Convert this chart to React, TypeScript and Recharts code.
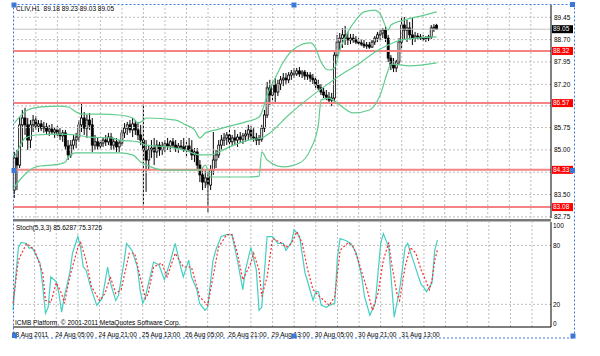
import React from 'react';
import { ComposedChart, Bar, Line, XAxis, YAxis, ReferenceLine } from 'recharts';

// CLIV,H1 — open, high, low, close per hourly bar
const ohlc: [number, number, number, number][] = [
  [83.65, 84.93, 83.39, 84.73], [84.73, 85.0, 83.65, 84.49], [84.49, 86.1, 84.39, 85.84], [85.84, 86.34, 85.1, 86.07],
  [86.07, 86.41, 85.5, 85.84], [85.84, 86.07, 85.0, 85.33], [85.33, 86.0, 85.06, 85.84], [85.84, 86.17, 85.6, 86.0],
  [86.0, 86.14, 85.67, 85.8], [85.8, 86.0, 85.6, 85.87], [85.87, 86.0, 85.63, 85.73], [85.73, 85.94, 85.57, 85.77],
  [85.77, 85.9, 85.5, 85.63], [85.63, 85.84, 85.47, 85.7], [85.7, 85.87, 85.53, 85.6], [85.6, 85.77, 85.4, 85.67],
  [85.67, 85.8, 85.47, 85.53], [85.53, 85.73, 85.33, 85.47], [85.47, 85.67, 85.27, 85.57], [85.57, 85.67, 85.0, 85.13],
  [85.13, 85.33, 84.66, 84.83], [84.83, 85.33, 84.73, 85.16], [85.16, 85.5, 85.0, 85.33], [85.33, 85.57, 85.06, 85.43],
  [85.43, 86.0, 85.27, 85.84], [85.84, 86.57, 85.6, 86.07], [86.07, 86.27, 85.5, 85.73], [85.73, 86.17, 85.4, 86.0],
  [86.0, 86.24, 85.67, 85.84], [85.84, 86.07, 84.93, 85.16], [85.16, 85.5, 85.0, 85.27], [85.27, 85.4, 85.0, 85.13],
  [85.13, 85.33, 85.03, 85.23], [85.23, 85.43, 85.1, 85.33], [85.33, 85.5, 85.13, 85.27], [85.27, 85.57, 85.16, 85.43],
  [85.43, 85.57, 85.0, 85.16], [85.16, 85.4, 85.0, 85.27], [85.27, 85.4, 84.93, 85.1], [85.1, 85.33, 84.93, 85.23],
  [85.23, 85.67, 85.13, 85.57], [85.57, 85.9, 85.4, 85.73], [85.73, 85.94, 85.5, 85.84], [85.84, 86.0, 85.57, 85.67],
  [85.67, 86.07, 85.43, 85.87], [85.87, 86.0, 85.5, 85.67], [85.67, 85.94, 85.33, 85.5], [85.5, 85.84, 85.16, 85.33],
  [85.33, 86.57, 82.98, 85.0], [85.0, 85.33, 83.59, 84.66], [84.66, 85.16, 84.32, 85.0], [85.0, 85.33, 84.73, 85.06],
  [85.06, 85.4, 84.49, 84.93], [84.93, 85.33, 84.73, 85.16], [85.16, 85.27, 84.8, 85.0], [85.0, 85.27, 84.83, 85.13],
  [85.13, 85.33, 84.93, 85.2], [85.2, 85.4, 85.0, 85.13], [85.13, 85.33, 84.93, 85.27], [85.27, 85.4, 85.06, 85.16],
  [85.16, 85.33, 84.93, 85.06], [85.06, 85.23, 84.9, 85.13], [85.13, 85.33, 85.0, 85.1], [85.1, 85.4, 84.93, 85.0],
  [85.0, 85.27, 84.73, 85.13], [85.13, 85.4, 84.93, 85.0], [85.0, 85.33, 84.66, 84.83], [84.83, 85.06, 84.59, 84.93],
  [84.93, 85.06, 84.32, 84.49], [84.49, 84.66, 83.92, 84.16], [84.16, 84.39, 83.65, 83.92], [83.92, 84.32, 83.72, 84.06],
  [84.06, 84.26, 82.92, 83.82], [83.82, 84.49, 83.65, 84.32], [84.32, 85.6, 84.16, 84.66], [84.66, 85.0, 84.39, 84.83],
  [84.83, 85.33, 84.73, 85.16], [85.16, 85.5, 85.0, 85.33], [85.33, 85.57, 85.13, 85.4], [85.4, 85.6, 85.16, 85.5],
  [85.5, 85.67, 85.06, 85.27], [85.27, 85.5, 85.13, 85.4], [85.4, 85.67, 85.16, 85.33], [85.33, 85.53, 85.1, 85.43],
  [85.43, 85.6, 85.23, 85.36], [85.36, 85.57, 85.2, 85.47], [85.47, 85.67, 85.27, 85.53], [85.53, 85.84, 85.33, 85.67],
  [85.67, 85.8, 85.33, 85.43], [85.43, 85.73, 85.27, 85.4], [85.4, 85.57, 85.16, 85.33], [85.33, 85.5, 85.16, 85.36],
  [85.36, 85.84, 85.27, 85.73], [85.73, 86.34, 85.6, 86.17], [86.17, 87.28, 86.07, 87.08], [87.08, 87.35, 86.51, 86.84],
  [86.84, 87.35, 86.67, 87.18], [87.18, 87.41, 86.61, 86.94], [86.94, 87.35, 86.81, 87.21], [87.21, 87.48, 87.01, 87.35],
  [87.35, 87.58, 87.14, 87.41], [87.41, 87.58, 87.18, 87.35], [87.35, 87.61, 87.24, 87.51], [87.51, 87.68, 87.35, 87.58],
  [87.58, 87.75, 87.41, 87.55], [87.55, 87.75, 87.48, 87.65], [87.65, 87.78, 87.45, 87.55], [87.55, 87.68, 87.41, 87.61],
  [87.61, 87.68, 87.35, 87.48], [87.48, 87.61, 87.35, 87.51], [87.51, 87.61, 87.28, 87.41], [87.41, 87.55, 87.21, 87.35],
  [87.35, 87.48, 87.08, 87.18], [87.18, 87.35, 87.01, 87.08], [87.08, 87.21, 86.84, 86.94], [86.94, 87.08, 86.74, 86.84],
  [86.84, 87.01, 86.67, 86.77], [86.77, 86.94, 86.57, 86.67], [86.67, 86.91, 86.47, 86.74], [86.74, 88.28, 86.61, 88.18],
  [88.18, 88.86, 88.08, 88.62], [88.62, 88.92, 88.35, 88.75], [88.75, 89.09, 88.42, 88.86], [88.86, 89.16, 88.52, 88.75],
  [88.75, 88.96, 88.52, 88.69], [88.69, 88.89, 88.55, 88.75], [88.75, 88.89, 88.59, 88.69], [88.69, 88.82, 88.55, 88.62],
  [88.62, 88.75, 88.52, 88.59], [88.59, 88.72, 88.49, 88.55], [88.55, 88.69, 88.42, 88.49], [88.49, 88.62, 88.39, 88.52],
  [88.52, 88.62, 88.39, 88.45], [88.45, 88.69, 88.42, 88.62], [88.62, 88.82, 88.52, 88.75], [88.75, 88.96, 88.62, 88.86],
  [88.86, 89.02, 88.69, 88.92], [88.92, 89.09, 88.75, 89.02], [89.02, 89.16, 88.62, 88.75], [88.75, 88.86, 87.95, 88.08],
  [88.08, 88.18, 87.68, 87.85], [87.85, 88.08, 87.61, 87.75], [87.75, 88.02, 87.61, 87.95], [87.95, 88.75, 87.85, 88.62],
  [88.62, 89.46, 88.42, 89.19], [89.19, 89.46, 88.69, 89.02], [89.02, 89.36, 88.62, 89.09], [89.09, 89.29, 88.69, 88.86],
  [88.86, 89.43, 88.52, 88.75], [88.75, 88.96, 88.62, 88.82], [88.82, 88.92, 88.69, 88.79], [88.79, 88.89, 88.69, 88.75],
  [88.75, 88.86, 88.65, 88.72], [88.72, 88.82, 88.62, 88.75], [88.75, 88.86, 88.65, 88.79], [88.79, 89.19, 88.72, 89.09],
  [89.09, 89.22, 88.96, 89.12], [89.18, 89.23, 89.03, 89.05],
];

// Bollinger bands, [bar, price]
const upperBand: [number, number][] = [
  [0, 85.9], [5, 86.34], [10, 86.44], [17, 86.47], [20, 86.44], [23, 86.27], [25, 86.2], [32, 86.2], [39, 86.17],
  [44, 86.07], [46, 85.9], [48, 86.0], [49, 86.07], [60, 86.0], [63, 85.87], [67, 85.67], [69, 85.4], [71, 85.57],
  [75, 85.67], [79, 85.77], [86, 85.94], [91, 86.1], [92, 86.27], [94, 86.84], [97, 87.41], [100, 87.95], [105, 88.45],
  [110, 88.59], [112, 88.42], [114, 87.95], [117, 87.68], [119, 87.75], [121, 88.35], [124, 88.96], [127, 89.36],
  [130, 89.63], [134, 89.69], [136, 89.56], [139, 89.02], [140, 89.19], [145, 89.36], [151, 89.49], [157, 89.63],
];
const midBand: [number, number][] = [
  [0, 84.76], [1, 84.93], [4, 85.4], [8, 85.5], [17, 85.53], [23, 85.5], [28, 85.43], [36, 85.4], [39, 85.33],
  [46, 85.27], [49, 85.16], [57, 85.1], [63, 85.0], [69, 84.83], [73, 84.83], [76, 84.93], [79, 85.06], [87, 85.33],
  [92, 85.4], [95, 85.57], [102, 86.17], [110, 86.77], [117, 87.24], [123, 87.61], [129, 87.95], [134, 88.28],
  [139, 88.52], [144, 88.69], [157, 88.79],
];
const lowerBand: [number, number][] = [
  [0, 83.75], [3, 84.09], [8, 84.43], [17, 84.53], [19, 84.59], [20, 84.76], [23, 84.9], [39, 84.9], [44, 84.83],
  [47, 84.59], [52, 84.39], [56, 84.32], [69, 84.32], [71, 84.49], [73, 84.09], [79, 84.09], [87, 84.09], [91, 84.12],
  [92, 84.93], [94, 84.66], [100, 84.43], [106, 84.56], [110, 85.0], [113, 85.84], [114, 86.67], [117, 86.74],
  [120, 86.57], [126, 86.24], [132, 86.34], [136, 86.84], [139, 87.68], [140, 87.88], [147, 87.82], [157, 87.92],
];

// Stoch(5,3,3), [bar, value]
const stochMain: [number, number][] = [
  [0, 14], [1, 48], [2, 78], [3, 83], [5, 82], [6, 77], [7, 78], [8, 73], [10, 62], [11, 38], [12, 11], [13, 17],
  [14, 48], [16, 43], [17, 31], [18, 12], [19, 28], [21, 52], [22, 72], [24, 89], [25, 78], [26, 58], [27, 55],
  [29, 35], [31, 19], [33, 26], [35, 58], [36, 42], [38, 24], [39, 29], [41, 62], [42, 82], [44, 75], [46, 58],
  [47, 35], [48, 21], [49, 28], [52, 63], [54, 60], [56, 45], [58, 62], [60, 82], [62, 58], [63, 48], [65, 65],
  [66, 48], [68, 35], [69, 21], [71, 14], [72, 17], [74, 65], [75, 75], [77, 89], [79, 91], [81, 91], [83, 65],
  [85, 35], [86, 55], [88, 78], [90, 55], [91, 14], [92, 17], [94, 89], [96, 89], [98, 82], [100, 82], [101, 75],
  [103, 83], [104, 96], [106, 89], [108, 52], [109, 43], [111, 24], [112, 33], [113, 33], [114, 19], [116, 17],
  [117, 19], [119, 21], [120, 68], [121, 87], [123, 85], [125, 82], [127, 72], [129, 48], [130, 28], [132, 9],
  [134, 21], [136, 82], [137, 92], [139, 78], [140, 42], [141, 7], [143, 35], [144, 55], [145, 78], [146, 82],
  [147, 73], [148, 65], [150, 48], [151, 40], [152, 37], [153, 33], [155, 42], [156, 75], [157, 85.6287],
];
const stochSignal: [number, number][] = [
  [0, 21], [2, 65], [5, 82], [8, 75], [11, 52], [12, 24], [14, 22], [16, 42], [18, 31], [19, 21], [21, 48], [24, 78],
  [25, 83], [27, 65], [29, 38], [32, 24], [34, 31], [36, 48], [38, 31], [40, 35], [43, 72], [45, 72], [47, 48],
  [49, 26], [50, 31], [52, 58], [55, 62], [57, 48], [60, 72], [63, 58], [66, 58], [68, 38], [69, 28], [72, 19],
  [74, 48], [76, 78], [79, 91], [81, 91], [83, 72], [85, 45], [88, 62], [89, 72], [91, 55], [92, 28], [94, 48],
  [96, 87], [99, 83], [101, 78], [103, 82], [105, 94], [107, 82], [109, 55], [111, 35], [113, 29], [115, 24],
  [117, 19], [119, 28], [121, 75], [124, 83], [126, 78], [128, 62], [131, 35], [133, 14], [135, 31], [137, 65],
  [139, 83], [140, 62], [142, 31], [143, 24], [145, 58], [147, 78], [149, 72], [151, 55], [153, 42], [154, 35],
  [155, 45], [156, 65], [157, 75.3726],
];

const timeLabels: [number, string][] = [
  [0, '23 Aug 2011'], [16, '24 Aug 05:00'], [32, '24 Aug 21:00'], [48, '25 Aug 13:00'], [64, '26 Aug 05:00'],
  [80, '26 Aug 21:00'], [96, '29 Aug 13:00'], [112, '30 Aug 05:00'], [128, '30 Aug 21:00'], [144, '31 Aug 13:00'],
];
const priceTicks = [82.75, 83.5, 84.25, 85.0, 85.75, 86.475, 87.2, 87.95, 88.7, 89.45];
const coveredTicks = [84.25, 86.475];
const levels = [88.32, 86.57, 84.33, 83.08];
const bidPrice = 89.05;
const stochTicks = [0, 20, 80, 100];
const stochLevels = [20, 80];

const SLOTS = 200;
const FONT = '"Liberation Sans", Arial, sans-serif';
const FS = 6.5;
const GRID = '#bdbdbd';

const upMap = new Map(upperBand);
const midMap = new Map(midBand);
const loMap = new Map(lowerBand);
const kMap = new Map(stochMain);
const dMap = new Map(stochSignal);
const labelMap = new Map(timeLabels);
const vGrid: number[] = [];
for (let i = 8; i < SLOTS; i += 8) vGrid.push(i);

const rows = Array.from({ length: SLOTS }, (_, i) => {
  const c = ohlc[i];
  return {
    i,
    range: c ? [c[2], c[1]] : null,
    o: c ? c[0] : undefined,
    h: c ? c[1] : undefined,
    l: c ? c[2] : undefined,
    c: c ? c[3] : undefined,
    upper: upMap.get(i),
    mid: midMap.get(i),
    lower: loMap.get(i),
    k: kMap.get(i),
    d: dMap.get(i),
  };
});

const Candle = (props: any) => {
  const { x, width, y, height, payload } = props;
  if (!payload || payload.h == null) return <g />;
  const cx = x + width / 2;
  const span = payload.h - payload.l;
  const py = (v: number) => (span > 0 ? y + ((payload.h - v) / span) * height : y);
  const top = py(Math.max(payload.o, payload.c));
  const bot = py(Math.min(payload.o, payload.c));
  const bull = payload.c >= payload.o;
  return (
    <g>
      <line x1={cx} x2={cx} y1={y} y2={y + height} stroke="#000" strokeWidth={1} />
      <rect x={cx - 1} y={top} width={2} height={Math.max(bot - top, 1)}
        fill={bull ? '#fff' : '#000'} stroke="#000" strokeWidth={0.8} />
    </g>
  );
};

const tag = (text: string, bg: string) => (props: any) => {
  const vb = props.viewBox || {};
  const x = vb.x + vb.width + 1;
  const y = vb.y;
  return (
    <g>
      <rect x={x} y={y - 4} width={21} height={8} fill={bg} />
      <text x={x + 1} y={y + 2.3} fontSize={FS} fill="#fff" fontFamily={FONT}>{text}</text>
    </g>
  );
};

const PriceTick = (props: any) => {
  const { x, y, payload } = props;
  if (coveredTicks.includes(payload.value)) return <g />;
  return <text x={x} y={y + 2.3} fontSize={FS} fill="#000" fontFamily={FONT}>{payload.value.toFixed(2)}</text>;
};

const StochTick = (props: any) => {
  const { x, y, payload } = props;
  return <text x={x} y={y + 2.3} fontSize={FS} fill="#000" fontFamily={FONT}>{payload.value}</text>;
};

const TimeTick = (props: any) => {
  const { x, y, payload } = props;
  return <text x={x - 1} y={y + 10} fontSize={FS} fill="#000" fontFamily={FONT}>{labelMap.get(payload.value)}</text>;
};

const handles = [
  [14, 5], [294, 5], [572.5, 4.5], [14, 170.5], [572.5, 170.5], [14.5, 335.5], [294, 336], [573, 336],
];

export default function App() {
  return (
    <div style={{ position: 'absolute', left: 0, top: 0, width: 600, height: 356, background: '#fff', overflow: 'hidden' }}>
      <div style={{ position: 'absolute', left: 0, top: 0 }}>
        <ComposedChart width={600} height={220} data={rows} margin={{ top: 5, right: 0, bottom: 2, left: 13 }}>
          <XAxis dataKey="i" hide />
          <YAxis orientation="right" width={49} domain={[82.714, 89.862]} allowDataOverflow ticks={priceTicks}
            interval={0} tick={PriceTick} tickSize={0} tickMargin={3} tickLine={false} axisLine={{ stroke: '#000' }} />
          {priceTicks.map((v) => (
            <ReferenceLine key={'h' + v} y={v} stroke={GRID} strokeDasharray="2 2" />
          ))}
          {vGrid.map((i) => (
            <ReferenceLine key={'v' + i} x={i} stroke={GRID} strokeDasharray="2 2" />
          ))}
          <ReferenceLine y={bidPrice} stroke="#c4c4c4" label={tag(bidPrice.toFixed(2), '#000')} />
          {levels.map((v) => (
            <ReferenceLine key={'l' + v} y={v} stroke="#f48383" strokeWidth={2} label={tag(v.toFixed(2), '#ff0000')} />
          ))}
          <Bar dataKey="range" shape={Candle} isAnimationActive={false} />
          <Line dataKey="upper" type="monotone" stroke="#62cc8e" strokeWidth={1.2} dot={false} activeDot={false} connectNulls isAnimationActive={false} />
          <Line dataKey="mid" type="monotone" stroke="#62cc8e" strokeWidth={1.2} dot={false} activeDot={false} connectNulls isAnimationActive={false} />
          <Line dataKey="lower" type="monotone" stroke="#62cc8e" strokeWidth={1.2} dot={false} activeDot={false} connectNulls isAnimationActive={false} />
        </ComposedChart>
      </div>
      <div style={{ position: 'absolute', left: 0, top: 220 }}>
        <ComposedChart width={600} height={122} data={rows} margin={{ top: 2, right: 0, bottom: 0, left: 13 }}>
          <XAxis dataKey="i" height={15} ticks={timeLabels.map((t) => t[0])} interval={0} tick={TimeTick}
            tickSize={0} tickMargin={0} tickLine={false} axisLine={{ stroke: '#000' }} />
          <YAxis orientation="right" width={49} domain={[-3.05, 103.8]} allowDataOverflow ticks={stochTicks}
            interval={0} tick={StochTick} tickSize={0} tickMargin={2} tickLine={false} axisLine={{ stroke: '#000' }} />
          {stochLevels.map((v) => (
            <ReferenceLine key={'s' + v} y={v} stroke={GRID} strokeDasharray="2 2" />
          ))}
          {vGrid.map((i) => (
            <ReferenceLine key={'sv' + i} x={i} stroke={GRID} strokeDasharray="2 2" />
          ))}
          <Line dataKey="k" type="linear" stroke="#44cfc4" strokeWidth={1.2} dot={false} activeDot={false} connectNulls isAnimationActive={false} />
          <Line dataKey="d" type="linear" stroke="#ff2a2a" strokeWidth={1.2} strokeDasharray="2 2" dot={false} activeDot={false} connectNulls isAnimationActive={false} />
        </ComposedChart>
      </div>
      <svg width={600} height={356} style={{ position: 'absolute', left: 0, top: 0, pointerEvents: 'none' }}>
        <rect x={13} y={219} width={538} height={2.5} fill="#7a7a7a" />
        <text x={16} y={11.3} fontSize={FS} fill="#000" fontFamily={FONT} xmlSpace="preserve">CLIV,H1  89.18 89.23 89.03 89.05</text>
        <text x={16} y={229.8} fontSize={FS} fill="#000" fontFamily={FONT}>Stoch(5,3,3) 85.6287 75.3726</text>
        <text x={15} y={325.3} fontSize={FS} fill="#000" fontFamily={FONT}>ICMB Platform, © 2001-2011 MetaQuotes Software Corp.</text>
        <rect x={13.5} y={4.5} width={561} height={333.5} fill="none" stroke="#3c78d8" strokeDasharray="2 2" />
        {handles.map(([hx, hy], n) => (
          <rect key={n} x={hx - 2.5} y={hy - 2.5} width={5} height={5} fill="#3c78d8" />
        ))}
      </svg>
    </div>
  );
}
